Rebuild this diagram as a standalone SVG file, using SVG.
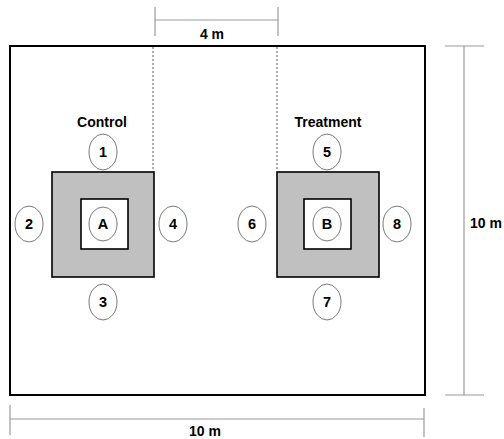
<svg xmlns="http://www.w3.org/2000/svg" width="504" height="439" viewBox="0 0 504 439">
  <style>
    .lbl { font-family: "Liberation Sans", Arial, sans-serif; font-weight: bold; font-size: 14px; fill: #000; text-anchor: middle; }
    .num { font-size: 14.5px; }
    .dim { stroke: #9a9a9a; stroke-width: 1.2; fill: none; }
    .guide { stroke: #333; stroke-width: 0.8; stroke-dasharray: 2 2; fill: none; }
    .plot { fill: #c0c0c0; stroke: #000; stroke-width: 1.6; }
    .core { fill: #fff; stroke: #000; stroke-width: 1.6; }
    .spot { fill: #fff; stroke: #555; stroke-width: 0.8; }
  </style>

  <rect id="field" x="10" y="46" width="415" height="349" fill="#fff" stroke="#000" stroke-width="2"/>

  <g id="dimensions">
    <line class="dim" x1="155" y1="20" x2="278" y2="20"/>
    <line class="dim" x1="155" y1="7" x2="155" y2="36"/>
    <line class="dim" x1="278" y1="7" x2="278" y2="36"/>
    <text class="lbl" x="212" y="39">4 m</text>

    <line class="dim" x1="464" y1="46" x2="464" y2="395"/>
    <line class="dim" x1="445" y1="46" x2="484" y2="46"/>
    <line class="dim" x1="445" y1="395" x2="484" y2="395"/>
    <text class="lbl" x="486" y="228">10 m</text>

    <line class="dim" x1="10" y1="419" x2="424" y2="419"/>
    <line class="dim" x1="10" y1="405" x2="10" y2="435"/>
    <line class="dim" x1="424" y1="408" x2="424" y2="437"/>
    <text class="lbl" x="205" y="436">10 m</text>

    <line class="guide" x1="153" y1="47" x2="153" y2="171"/>
    <line class="guide" x1="277" y1="47" x2="277" y2="171"/>
  </g>

  <g id="control">
    <text class="lbl" x="102" y="127">Control</text>
    <rect class="plot" x="52" y="172" width="102" height="105"/>
    <rect class="core" x="81" y="199" width="47" height="50"/>
  </g>
  <g id="treatment">
    <text class="lbl" x="328" y="127">Treatment</text>
    <rect class="plot" x="277" y="172" width="102" height="105"/>
    <rect class="core" x="304" y="199" width="47" height="50"/>
  </g>

  <g id="n1"><ellipse class="spot" cx="103" cy="152" rx="14" ry="18"/><text class="lbl num" x="103" y="157">1</text></g>
  <g id="n2"><ellipse class="spot" cx="29" cy="224" rx="14" ry="18"/><text class="lbl num" x="29" y="229">2</text></g>
  <g id="n3"><ellipse class="spot" cx="103" cy="302" rx="14" ry="18"/><text class="lbl num" x="103" y="307">3</text></g>
  <g id="n4"><ellipse class="spot" cx="173" cy="224" rx="14" ry="18"/><text class="lbl num" x="173" y="229">4</text></g>
  <g id="nA"><ellipse class="spot" cx="103" cy="224" rx="14" ry="17"/><text class="lbl num" x="103" y="229">A</text></g>

  <g id="n5"><ellipse class="spot" cx="327" cy="152" rx="14" ry="18"/><text class="lbl num" x="327" y="157">5</text></g>
  <g id="n6"><ellipse class="spot" cx="252" cy="224" rx="14" ry="18"/><text class="lbl num" x="252" y="229">6</text></g>
  <g id="n7"><ellipse class="spot" cx="327" cy="302" rx="14" ry="18"/><text class="lbl num" x="327" y="307">7</text></g>
  <g id="n8"><ellipse class="spot" cx="397" cy="224" rx="14" ry="18"/><text class="lbl num" x="397" y="229">8</text></g>
  <g id="nB"><ellipse class="spot" cx="327" cy="224" rx="14" ry="17"/><text class="lbl num" x="327" y="229">B</text></g>
</svg>
